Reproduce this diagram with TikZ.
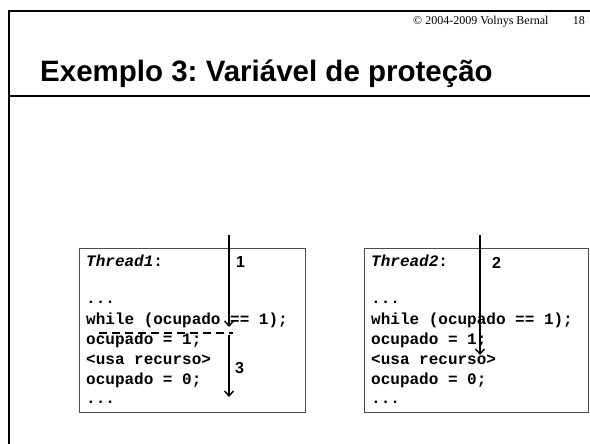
\documentclass[tikz,border=0pt]{standalone}
\usepackage{fontspec}
\setmainfont{Liberation Serif}
\setmonofont{Liberation Mono}
\newfontfamily\arialfont{Liberation Sans}
\usetikzlibrary{arrows.meta}

\tikzset{
  codebox/.style={draw=black!70, line width=0.9pt},
  code/.style={anchor=base west, inner sep=0pt, font=\ttfamily\bfseries\fontsize{16}{20}\selectfont},
  steplabel/.style={anchor=base west, inner sep=0pt, font=\arialfont\bfseries\fontsize{16}{16}\selectfont},
  flow/.style={line width=1.4pt, -{Straight Barb[length=5pt,width=9pt]}}
}

\begin{document}
\frenchspacing
\begin{tikzpicture}[x=1pt,y=-1pt]
  \useasboundingbox (0,0) rectangle (590,444);
  \draw[line width=2pt] (590,11) -- (8.5,11) -- (8.5,444);
  \draw[line width=2pt] (8.5,96) -- (590,96);
  \node[anchor=base west, inner sep=0pt, font=\fontsize{12}{12}\selectfont] (copy) at (413,25) {\textcopyright{} 2004-2009 Volnys Bernal};
  \node[anchor=base east, inner sep=0pt, font=\fontsize{12}{12}\selectfont] (page) at (585,25) {18};
  \node[anchor=base west, inner sep=0pt, font=\arialfont\bfseries\fontsize{29.5}{30}\selectfont] (title) at (40,82) {Exemplo 3: Variável de proteção};

  \draw[codebox] (79,248) rectangle (305,412);
  \node[code] (th1) at (86,266) {\textit{Thread1}:};
  \node[code] (l1a) at (86,303) {...};
  \node[code] (l1b) at (86,324) {while (ocupado == 1);};
  \node[code] (l1c) at (86,344) {ocupado = 1;};
  \node[code] (l1d) at (86,364) {<usa recurso>};
  \node[code] (l1e) at (86,384) {ocupado = 0;};
  \node[code] (l1f) at (86,403) {...};

  \draw[codebox] (364,248) rectangle (588,412);
  \node[code] (th2) at (371,266) {\textit{Thread2}:};
  \node[code] (l2a) at (371,303) {...};
  \node[code] (l2b) at (371,324) {while (ocupado == 1);};
  \node[code] (l2c) at (371,344) {ocupado = 1;};
  \node[code] (l2d) at (371,364) {<usa recurso>};
  \node[code] (l2e) at (371,384) {ocupado = 0;};
  \node[code] (l2f) at (371,403) {...};

  \coordinate (a1s) at (229,235);
  \coordinate (a1e) at (229,327);
  \coordinate (a3s) at (229,335);
  \coordinate (a3e) at (229,397);
  \coordinate (a2s) at (480,235);
  \coordinate (a2e) at (480,355);
  \coordinate (cutl) at (99,333);
  \coordinate (cutr) at (233,333);
  \draw[flow] (a1s) -- (a1e);
  \draw[flow] (a3s) -- (a3e);
  \draw[flow] (a2s) -- (a2e);
  \draw[line width=1.4pt, dash pattern=on 8pt off 5pt] (cutl) -- (cutr);
  \node[steplabel] (n1) at (236,267) {1};
  \node[steplabel] (n3) at (235,373) {3};
  \node[steplabel] (n2) at (492,268) {2};
\end{tikzpicture}
\end{document}
